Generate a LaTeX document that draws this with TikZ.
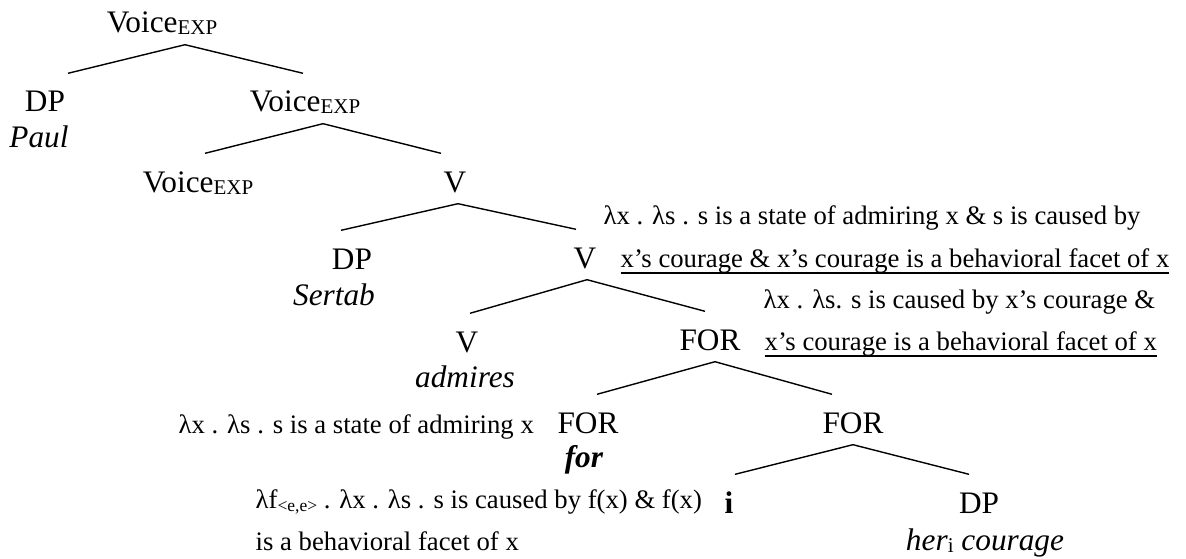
\documentclass[tikz,border=0pt]{standalone}
\usepackage{fontspec}
\setmainfont{Liberation Serif}
\usepackage{tikz}
\newcommand{\treefont}{\fontsize{31.3}{36}\selectfont}
\newcommand{\semfont}{\fontsize{26.7}{31}\selectfont}
\newcommand{\sublab}[1]{\raisebox{-2pt}{\fontsize{21}{21}\selectfont #1}}
\newcommand{\semsub}[1]{\raisebox{-3pt}{\fontsize{17.5}{18}\selectfont #1}}
\newcommand{\semline}[1]{\leavevmode\setbox0=\hbox{#1}\rlap{\rule[-7pt]{\wd0}{1.8pt}}\box0}

\begin{document}
\begin{tikzpicture}[x=1pt,y=-1pt,line width=1.4pt,
  tree/.style={font=\treefont,anchor=base,text height=27pt,text depth=0pt,inner xsep=0pt,inner ysep=11pt},
  word/.style={font=\treefont,anchor=base,inner sep=0pt},
  sem/.style={font=\semfont,anchor=base west,inner sep=0pt}]
\useasboundingbox (0,0) rectangle (1186,559);
% tree labels
\node[tree] (voiceA) at (162,33) {Voice\sublab{EXP}};
\node[tree] (dpA) at (45,112) {DP};
\node[word] (paul) at (39,147) {\textit{Paul}};
\node[tree] (voiceB) at (305,112) {Voice\sublab{EXP}};
\node[tree] (voiceC) at (198,192) {Voice\sublab{EXP}};
\node[tree] (vA) at (455,192) {V};
\node[tree] (dpB) at (352,269) {DP};
\node[word] (sertab) at (334,305) {\textit{Sertab}};
\node[tree] (vB) at (585,268) {V};
\node[tree] (vC) at (467,352) {V};
\node[word] (admires) at (465,387) {\textit{admires}};
\node[tree] (forA) at (710,350) {FOR};
\node[tree] (forB) at (588,433) {FOR};
\node[word] (forword) at (584,467) {\textbf{\textit{for}}};
\node[tree] (forC) at (853,433) {FOR};
\node[tree] (idx) at (729,513) {\textbf{i}};
\node[tree] (dpC) at (979,513) {DP};
\node[word] (courage) at (985,550) {\textit{her}\sublab{i} \textit{courage}};
% denotations
\node[sem] (semA) at (603,224) {λx . λs . s is a state of admiring x \& s is caused by};
\node[sem] (semB) at (620,267) {\semline{x’s courage \& x’s courage is a behavioral facet of x}};
\node[sem] (semC) at (763,308) {λx . λs. s is caused by x’s courage \&};
\node[sem] (semD) at (764,350) {\semline{x’s courage is a behavioral facet of x}};
\node[sem] (semE) at (178,433) {λx . λs . s is a state of admiring x};
\node[sem] (semF) at (255,508) {λf\semsub{<e,e>} . λx . λs . s is caused by f(x) \& f(x)};
\node[sem] (semG) at (255,550) {is a behavioral facet of x};
% branches
\draw ([xshift=23pt]voiceA.south) -- ([xshift=23pt]dpA.north);
\draw ([xshift=23pt]voiceA.south) -- ([xshift=-2pt]voiceB.north);
\draw ([xshift=18pt]voiceB.south) -- ([xshift=7pt]voiceC.north);
\draw ([xshift=18pt]voiceB.south) -- ([xshift=-14pt]vA.north);
\draw ([xshift=3pt]vA.south) -- ([xshift=-11pt]dpB.north);
\draw ([xshift=3pt]vA.south) -- ([xshift=-9pt]vB.north);
\draw ([xshift=2pt]vB.south) -- ([xshift=3pt]vC.north);
\draw ([xshift=2pt]vB.south) -- ([xshift=-5pt]forA.north);
\draw ([xshift=5pt]forA.south) -- ([xshift=9pt]forB.north);
\draw ([xshift=5pt]forA.south) -- ([xshift=-21pt]forC.north);
\draw (forC.south) -- ([xshift=6pt]idx.north);
\draw (forC.south) -- ([xshift=-10pt]dpC.north);
\end{tikzpicture}
\end{document}
